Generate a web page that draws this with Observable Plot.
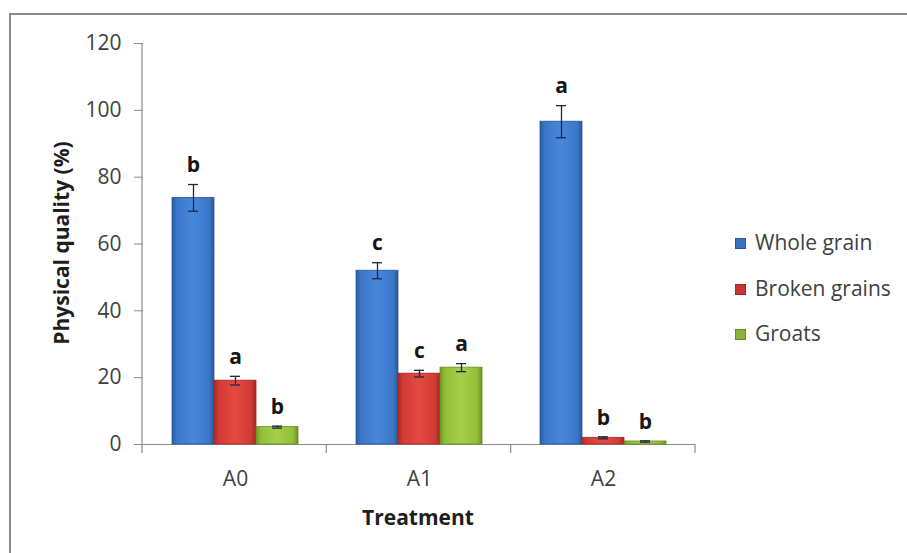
<!DOCTYPE html>
<html>
<head>
<meta charset="utf-8">
<script src="https://cdn.jsdelivr.net/npm/d3@7"></script>
<script src="https://cdn.jsdelivr.net/npm/@observablehq/plot@0.6"></script>
<style>
  body { margin: 0; background: #fff; }
  #wrap { position: relative; width: 907px; height: 553px; overflow: hidden; font-family: "Open Sans", sans-serif; background: #fff; }
  #border { position: absolute; left: 9px; top: 13px; width: 1200px; height: 1200px; border-left: 2px solid #8c8c8c; border-top: 2px solid #8c8c8c; box-sizing: border-box; }
  #chart { position: absolute; left: 0; top: 0; }
  .ttl { position: absolute; font-weight: bold; font-size: 21px; color: #1e1e1e; white-space: nowrap; line-height: 24px; }
  #ytitle { left: 61px; top: 243px; transform: translate(-50%, -50%) rotate(-90deg); }
  #xtitle { left: 418px; top: 517px; transform: translate(-50%, -50%); }
  #legend { position: absolute; left: 735px; top: 0; }
  .item { position: absolute; left: 0; white-space: nowrap; font-size: 21px; color: #404040; line-height: 24px; }
  .sw { display: inline-block; width: 11px; height: 11px; margin-right: 9px; vertical-align: 1px; box-sizing: border-box; }
</style>
</head>
<body>
<div id="wrap">
  <div id="border"></div>
  <div id="chart"></div>
  <div class="ttl" id="ytitle">Physical quality (%)</div>
  <div class="ttl" id="xtitle">Treatment</div>
  <div id="legend"></div>
</div>
<script>
// ---- data ----
const treatments = ["A0", "A1", "A2"];
const series = ["Whole grain", "Broken grains", "Groats"];
const wholeGrain = [73.8, 52.0, 96.6];
const wholeGrainErr = [4.0, 2.4, 4.8];
const wholeGrainLetters = ["b", "c", "a"];
const brokenGrains = [19.1, 21.2, 2.0];
const brokenGrainsErr = [1.3, 1.0, 0.3];
const brokenGrainsLetters = ["a", "c", "b"];
const groats = [5.2, 23.0, 0.9];
const groatsErr = [0.3, 1.2, 0.2];
const groatsLetters = ["b", "a", "b"];
const yTicks = [0, 20, 40, 60, 80, 100, 120];

// ---- styles ----
const gradients = {
  "Whole grain":   {id: "gBlue",  stops: ["#2c5da6", "#3b77c9", "#4787da", "#3b77c9", "#2a589d"], stroke: "#2a5597", swatch: "#3a72c0"},
  "Broken grains": {id: "gRed",   stops: ["#a82b27", "#d33a34", "#e24a43", "#d33a34", "#a02824"], stroke: "#9c2723", swatch: "#c93631"},
  "Groats":        {id: "gGreen", stops: ["#6f9726", "#93bf37", "#a6cf4a", "#93bf37", "#6a9023"], stroke: "#678c22", swatch: "#8db23a"}
};

const valuesBySeries = [wholeGrain, brokenGrains, groats];
const errBySeries = [wholeGrainErr, brokenGrainsErr, groatsErr];
const lettersBySeries = [wholeGrainLetters, brokenGrainsLetters, groatsLetters];
const rows = [];
treatments.forEach((t, i) => {
  series.forEach((s, j) => {
    rows.push({treatment: t, series: s, value: valuesBySeries[j][i], err: errBySeries[j][i], letter: lettersBySeries[j][i]});
  });
});

const errColor = "#1b2842";
const axisColor = "#8a8a8a";

const barMarks = series.map(s => Plot.barY(rows.filter(d => d.series === s), {
  fx: "treatment", x: "series", y: "value",
  fill: `url(#${gradients[s].id})`, stroke: gradients[s].stroke, strokeWidth: 0.8
}));

const chart = Plot.plot({
  width: 907, height: 553,
  marginLeft: 142, marginRight: 212, marginTop: 43, marginBottom: 109,
  style: {fontFamily: "'Open Sans', sans-serif", fontSize: "21px", background: "transparent", overflow: "visible"},
  fx: {domain: treatments, padding: 0, label: null},
  x: {domain: series, paddingInner: 0, paddingOuter: 0.69, axis: null},
  y: {domain: [0, 120], ticks: yTicks},
  marks: [
    Plot.axisY({ticks: yTicks, tickSize: 9, tickPadding: 13, label: null, stroke: axisColor, fill: "#404040", fontSize: 21}),
    Plot.axisFx({anchor: "bottom", tickSize: 0, tickPadding: 27, label: null, fill: "#404040", fontSize: 21}),
    Plot.ruleY([0], {stroke: axisColor, strokeWidth: 1.2}),
    ...barMarks,
    Plot.ruleX(rows, {fx: "treatment", x: "series", y1: d => d.value - d.err, y2: d => d.value + d.err, stroke: errColor, strokeWidth: 1.3}),
    Plot.tickY(rows, {fx: "treatment", x: "series", y: d => d.value + d.err, insetLeft: 16, insetRight: 16, stroke: errColor, strokeWidth: 1.3}),
    Plot.tickY(rows, {fx: "treatment", x: "series", y: d => d.value - d.err, insetLeft: 16, insetRight: 16, stroke: errColor, strokeWidth: 1.3}),
    Plot.text(rows, {fx: "treatment", x: "series", y: d => d.value + d.err, text: "letter", dy: -19, fontWeight: "bold", fontSize: 21, fill: "#151515"})
  ]
});

// gradient definitions for the bars
const svg = d3.select(chart);
const defs = svg.insert("defs", ":first-child");
series.forEach(s => {
  const g = defs.append("linearGradient").attr("id", gradients[s].id).attr("x1", 0).attr("x2", 1).attr("y1", 0).attr("y2", 0);
  const offs = [0, 0.12, 0.5, 0.88, 1];
  gradients[s].stops.forEach((c, k) => g.append("stop").attr("offset", offs[k]).attr("stop-color", c));
});

// axis line and category boundary ticks (Excel style)
const yS = chart.scale("y");
const fxS = chart.scale("fx");
const y0 = yS.apply(0), yTop = yS.apply(120);
const r0 = Math.min(...fxS.range), r1 = Math.max(...fxS.range);
const step = (r1 - r0) / treatments.length;
const deco = svg.append("g").attr("stroke", axisColor).attr("stroke-width", 1.2);
deco.append("line").attr("x1", r0).attr("x2", r0).attr("y1", yTop).attr("y2", y0 + 9);
for (let i = 1; i <= treatments.length; i++) {
  deco.append("line").attr("x1", r0 + i * step).attr("x2", r0 + i * step).attr("y1", y0).attr("y2", y0 + 9);
}

document.getElementById("chart").appendChild(chart);

// legend
const legend = document.getElementById("legend");
const legendTops = [230, 276, 321];
series.forEach((s, j) => {
  const it = document.createElement("div");
  it.className = "item";
  it.style.top = legendTops[j] + "px";
  it.innerHTML = `<span class="sw" style="background:${gradients[s].swatch};border:1px solid ${gradients[s].stroke}"></span>${s}`;
  legend.appendChild(it);
});
</script>
</body>
</html>
